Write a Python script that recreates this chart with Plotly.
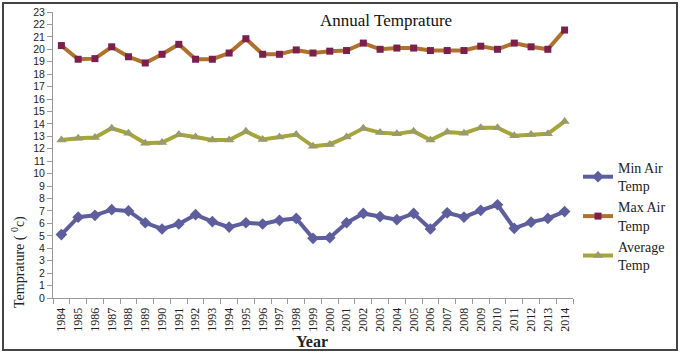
import plotly.graph_objects as go

years = [str(y) for y in range(1984, 2015)]
min_temp = [5.1, 6.5, 6.65, 7.1, 7.0, 6.05, 5.55, 5.95, 6.7, 6.15, 5.7, 6.05, 5.95, 6.25, 6.4,
            4.8, 4.85, 6.05, 6.8, 6.55, 6.3, 6.8, 5.55, 6.85, 6.5, 7.05, 7.5, 5.6, 6.1, 6.4, 6.95]
max_temp = [20.3, 19.2, 19.25, 20.2, 19.4, 18.9, 19.6, 20.4, 19.2, 19.2, 19.7, 20.85, 19.6, 19.6, 19.95,
            19.7, 19.85, 19.9, 20.5, 20.0, 20.1, 20.1, 19.9, 19.9, 19.9, 20.25, 20.0, 20.5, 20.2, 20.0, 21.55]
avg_temp = [12.7, 12.85, 12.9, 13.65, 13.25, 12.45, 12.5, 13.15, 12.95, 12.7, 12.7, 13.4, 12.75, 12.95, 13.15,
            12.2, 12.35, 12.95, 13.65, 13.3, 13.2, 13.4, 12.7, 13.35, 13.25, 13.7, 13.7, 13.05, 13.15, 13.2, 14.2]
y_ticks = list(range(0, 24))

W, H = 681, 354
L, R, T, B = 53, 108, 12, 56
pw, ph = W - L - R, H - T - B

def px(x):
    return (x - L) / pw

def py(y):
    return (H - B - y) / ph

fig = go.Figure()
fig.add_trace(go.Scatter(x=years, y=min_temp, name="Min Air<br>Temp", mode="lines+markers",
                         line=dict(color="#5E5E9E", width=4),
                         marker=dict(symbol="diamond", size=9, color="#5E5E9E")))
fig.add_trace(go.Scatter(x=years, y=max_temp, name="Max Air<br>Temp", mode="lines+markers",
                         line=dict(color="#B0712E", width=4),
                         marker=dict(symbol="square", size=7, color="#7B1F4F")))
fig.add_trace(go.Scatter(x=years, y=avg_temp, name="Average<br>Temp", mode="lines+markers",
                         line=dict(color="#A5A53A", width=4),
                         marker=dict(symbol="triangle-up", size=9, color="#9A9A6A")))

fig.update_layout(
    width=W, height=H,
    margin=dict(l=L, r=R, t=T, b=B, autoexpand=False),
    paper_bgcolor="white", plot_bgcolor="white",
    showlegend=True,
    legend=dict(x=px(578), y=py(152), xanchor="left", yanchor="top",
                font=dict(family="Liberation Serif", size=14, color="#222"),
                tracegroupgap=0, itemwidth=30, bgcolor="rgba(0,0,0,0)"),
    xaxis=dict(type="category", showgrid=False, showline=True, linecolor="#999", linewidth=1,
               ticks="outside", tickson="boundaries", ticklen=5, tickcolor="#999",
               tickangle=-90, tickfont=dict(family="Liberation Serif", size=12, color="#222"),
               ticklabelstandoff=4,
               range=[-0.5, len(years) - 0.5], automargin=False),
    yaxis=dict(range=[0, 23], tickvals=y_ticks, showgrid=False, showline=True, linecolor="#999",
               linewidth=1, ticks="outside", ticklen=5, tickcolor="#999",
               tickfont=dict(family="Liberation Sans", size=10.5, color="#222"), zeroline=False,
               automargin=False),
    shapes=[dict(type="rect", xref="paper", yref="paper",
                 x0=px(3), x1=px(677), y0=py(350), y1=py(3),
                 line=dict(color="#444", width=2))],
    annotations=[
        dict(text="Annual Temprature", xref="paper", yref="paper", x=px(386), y=py(20),
             xanchor="center", yanchor="middle",
             showarrow=False, font=dict(family="Liberation Serif", size=17, color="#111")),
        dict(text="Temprature ( <sup>0</sup>c)", xref="paper", yref="paper", x=px(18), y=py(262),
             xanchor="center", yanchor="middle",
             textangle=-90, showarrow=False, font=dict(family="Liberation Serif", size=14, color="#222")),
        dict(text="<b>Year</b>", xref="paper", yref="paper", x=px(312), y=py(341),
             xanchor="center", yanchor="middle",
             showarrow=False, font=dict(family="Liberation Serif", size=16, color="#222")),
    ],
)

fig.write_html("out.html")
